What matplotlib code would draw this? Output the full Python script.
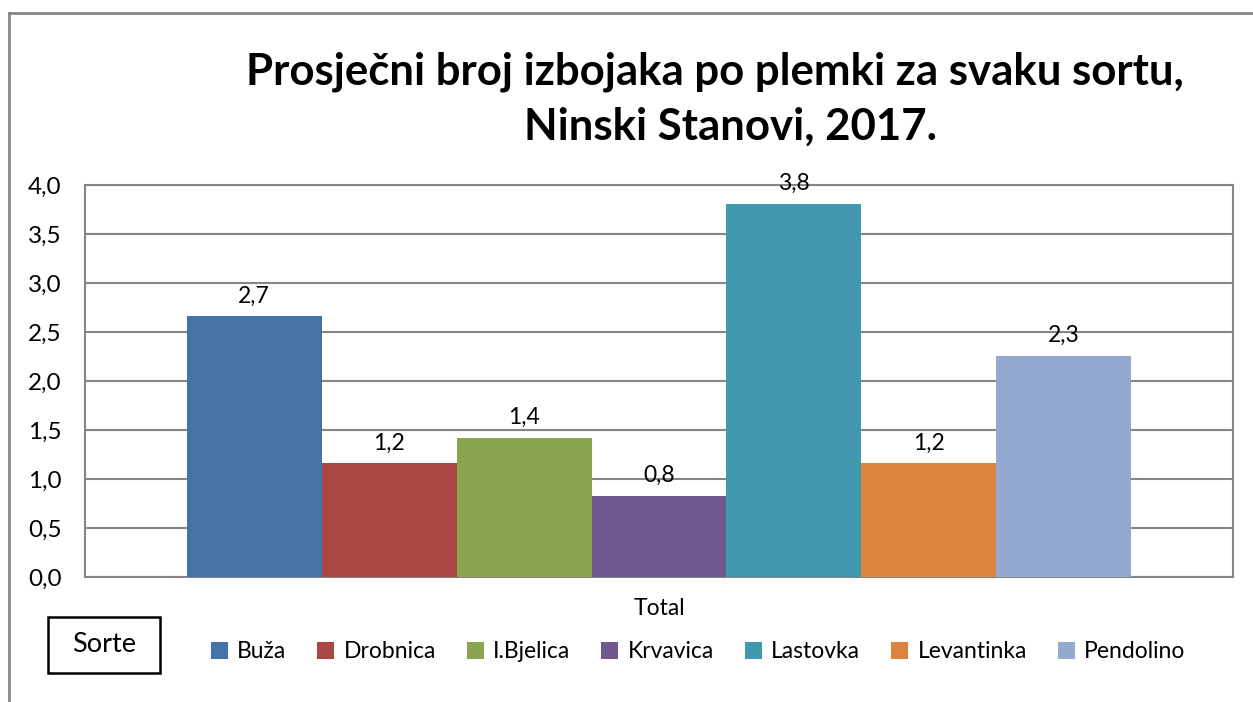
import matplotlib
matplotlib.use("Agg")
import matplotlib.pyplot as plt
from matplotlib.lines import Line2D
from matplotlib.patches import Patch, Rectangle

categories = ["Buža", "Drobnica", "I.Bjelica", "Krvavica", "Lastovka", "Levantinka", "Pendolino"]
values = [2.66, 1.16, 1.42, 0.83, 3.81, 1.16, 2.26]
colors = ["#4572A7", "#AA4643", "#89A54E", "#71588F", "#4198AF", "#DB843D", "#93A9CF"]
yticks = [0.0, 0.5, 1.0, 1.5, 2.0, 2.5, 3.0, 3.5, 4.0]
group_label = "Total"

plt.rcParams['font.family'] = ['Lato', 'DejaVu Sans']

W, H = 1253, 702
fig = plt.figure(figsize=(W / 100, H / 100), dpi=100)
ax = fig.add_axes([85 / W, 1 - 577 / H, (1233 - 85) / W, (577 - 185) / H])

n = len(categories)
bw = 0.823 / n
for i, (c, v, col) in enumerate(zip(categories, values, colors)):
    x = (i - (n - 1) / 2) * bw
    ax.bar(x, v, width=bw, color=col, label=c, zorder=3)
    ax.annotate(f"{v:.1f}".replace(".", ","), (x, v), xytext=(0, 7), textcoords="offset points",
                ha="center", va="bottom", fontsize=16.5)

ax.set_xlim(-0.5, 0.5)
ax.set_ylim(0, 4)
ax.set_yticks(yticks)
ax.set_yticklabels([f"{t:.1f}".replace(".", ",") for t in yticks], fontsize=17.5)
ax.set_xticks([0])
ax.set_xticklabels([group_label], fontsize=16.5)
ax.tick_params(axis="y", length=0, pad=17)
ax.tick_params(axis="x", length=0, pad=15)
ax.grid(axis="y", color="#868686", linewidth=1.5, zorder=0)
for s in ax.spines.values():
    s.set_color("#868686")
    s.set_linewidth(1.5)

fig.text(715 / W, 1 - 72 / H, "Prosječni broj izbojaka po plemki za svaku sortu,", ha="center", va="center",
         fontsize=31.5, fontweight="bold")
fig.text(730 / W, 1 - 127 / H, "Ninski Stanovi, 2017.", ha="center", va="center",
         fontsize=31.5, fontweight="bold")

handles = [Patch(facecolor=col, edgecolor="none") for col in colors]
fig.legend(handles, categories, loc="center", bbox_to_anchor=(698 / W, 1 - 652 / H), ncol=n,
           frameon=False, fontsize=16.5, handlelength=0.75, handleheight=0.75, handletextpad=0.4,
           columnspacing=1.35)

fig.add_artist(Rectangle((48 / W, 1 - 673 / H), 112 / W, 56 / H, facecolor="white", edgecolor="black",
                         linewidth=1.8, transform=fig.transFigure))
fig.text(104 / W, 1 - 645 / H, "Sorte", ha="center", va="center", fontsize=19.5)

fig.add_artist(Line2D([9 / W, 1.0], [1 - 13 / H, 1 - 13 / H], color="#868686", linewidth=2,
                      transform=fig.transFigure))
fig.add_artist(Line2D([9 / W, 9 / W], [1 - 13 / H, 0.0], color="#868686", linewidth=2,
                      transform=fig.transFigure))

fig.savefig("out.png", dpi=100)
